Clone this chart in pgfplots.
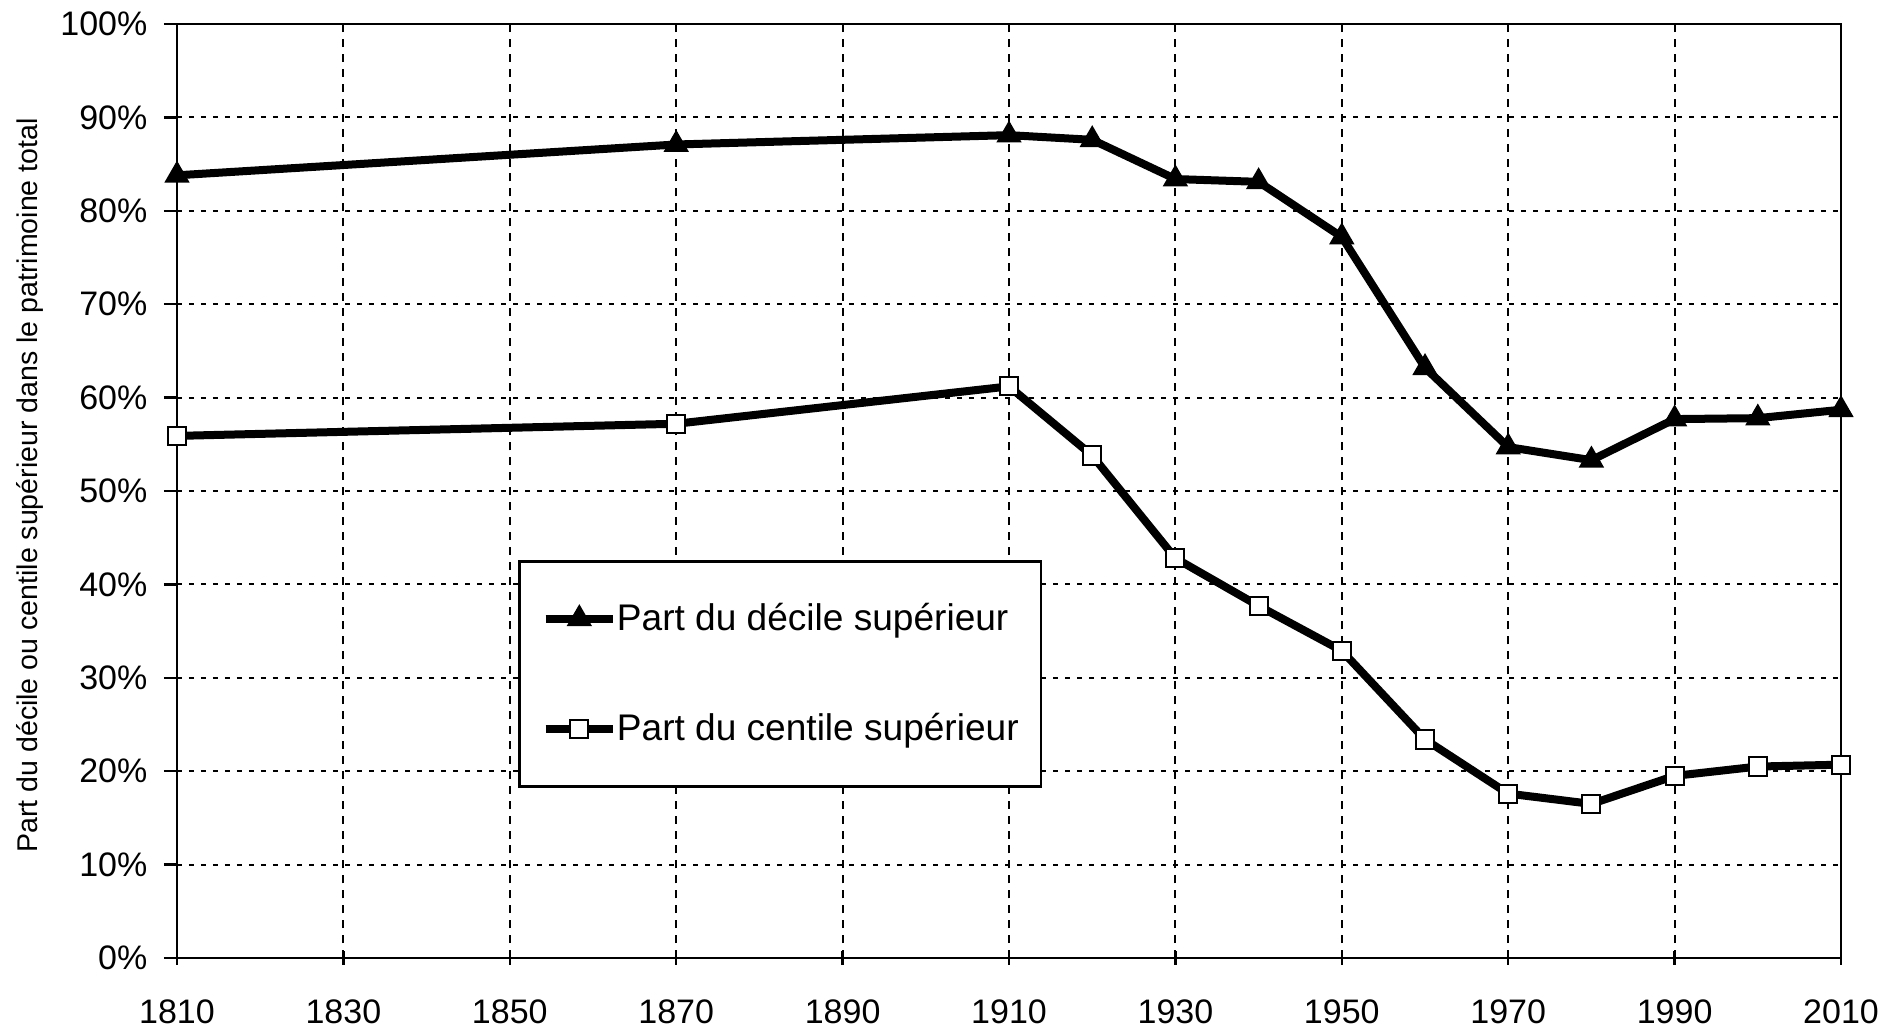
\documentclass[border=0pt]{standalone}
\usepackage{fontspec}
\setmainfont{Liberation Sans}
\usepackage{pgfplots}
\pgfplotsset{compat=1.18}
\begin{document}
\begin{tikzpicture}
\path[use as bounding box] (-66.375pt,-27pt) rectangle (645.75pt,359.25pt);
\begin{axis}[
  at={(0pt,0pt)}, anchor=south west,
  scale only axis, width=624pt, height=350.25pt,
  xmin=1810, xmax=2010, ymin=0, ymax=100,
  xtick={1810,1830,...,2010}, ytick={0,10,...,100},
  /pgf/number format/assume math mode=true,
  /pgf/number format/1000 sep={},
  yticklabel={\pgfmathprintnumber{\tick}\%},
  tick label style={font=\fontsize{12.75pt}{14pt}\selectfont, black},
  axis line style={line width=0.9pt, black},
  every tick/.style={black, line width=0.9pt},
  xtick align=center, ytick align=outside,
  major tick length=4.9pt,
  xtick pos=bottom, ytick pos=left,
  xticklabel style={yshift=-9.7pt},
  yticklabel style={xshift=-2.7pt},
  grid=major,
  major x grid style={black, line width=0.8pt, dash pattern=on 3pt off 2.6pt},
  major y grid style={black, line width=0.8pt, dash pattern=on 1.9pt off 2.6pt},
  ylabel={Part du décile ou centile supérieur dans le patrimoine total},
  ylabel style={font=\fontsize{10.7pt}{12pt}\selectfont},
  every axis y label/.append style={at={(axis description cs:-0.0883,0.506)}, anchor=center},
  legend cell align=left,
  legend style={at={(axis description cs:0.205,0.426)}, anchor=north west,
    draw=black, line width=0.9pt, fill=white,
    inner xsep=8.4pt, inner ysep=12pt, row sep=22.3pt,
    font=\fontsize{13.9pt}{16pt}\selectfont,
    nodes={inner xsep=0pt, inner ysep=3pt, text height=10.9pt, text depth=0.22em}},
  legend image code/.code={\draw[mark repeat=2,mark phase=2,#1] plot coordinates {(0pt,0pt) (12.6pt,0pt) (25.2pt,0pt)};},
]
\addplot[black, line width=3pt, mark=triangle*, mark size=5pt,
  mark options={solid, fill=black, line width=0.5pt}] coordinates {
  (1810,83.8) (1870,87.1) (1910,88.1) (1920,87.6) (1930,83.4) (1940,83.1)
  (1950,77.2) (1960,63.2) (1970,54.7) (1980,53.3) (1990,57.7) (2000,57.8) (2010,58.7)};
\addlegendentry{Part du décile supérieur}
\addplot[black, line width=3pt, mark=square*, mark size=3.4pt,
  mark options={solid, fill=white, draw=black, line width=0.75pt}] coordinates {
  (1810,55.9) (1870,57.2) (1910,61.2) (1920,53.8) (1930,42.8) (1940,37.7)
  (1950,32.9) (1960,23.4) (1970,17.6) (1980,16.5) (1990,19.5) (2000,20.5) (2010,20.7)};
\addlegendentry{Part du centile supérieur}
\end{axis}
\end{tikzpicture}
\end{document}
